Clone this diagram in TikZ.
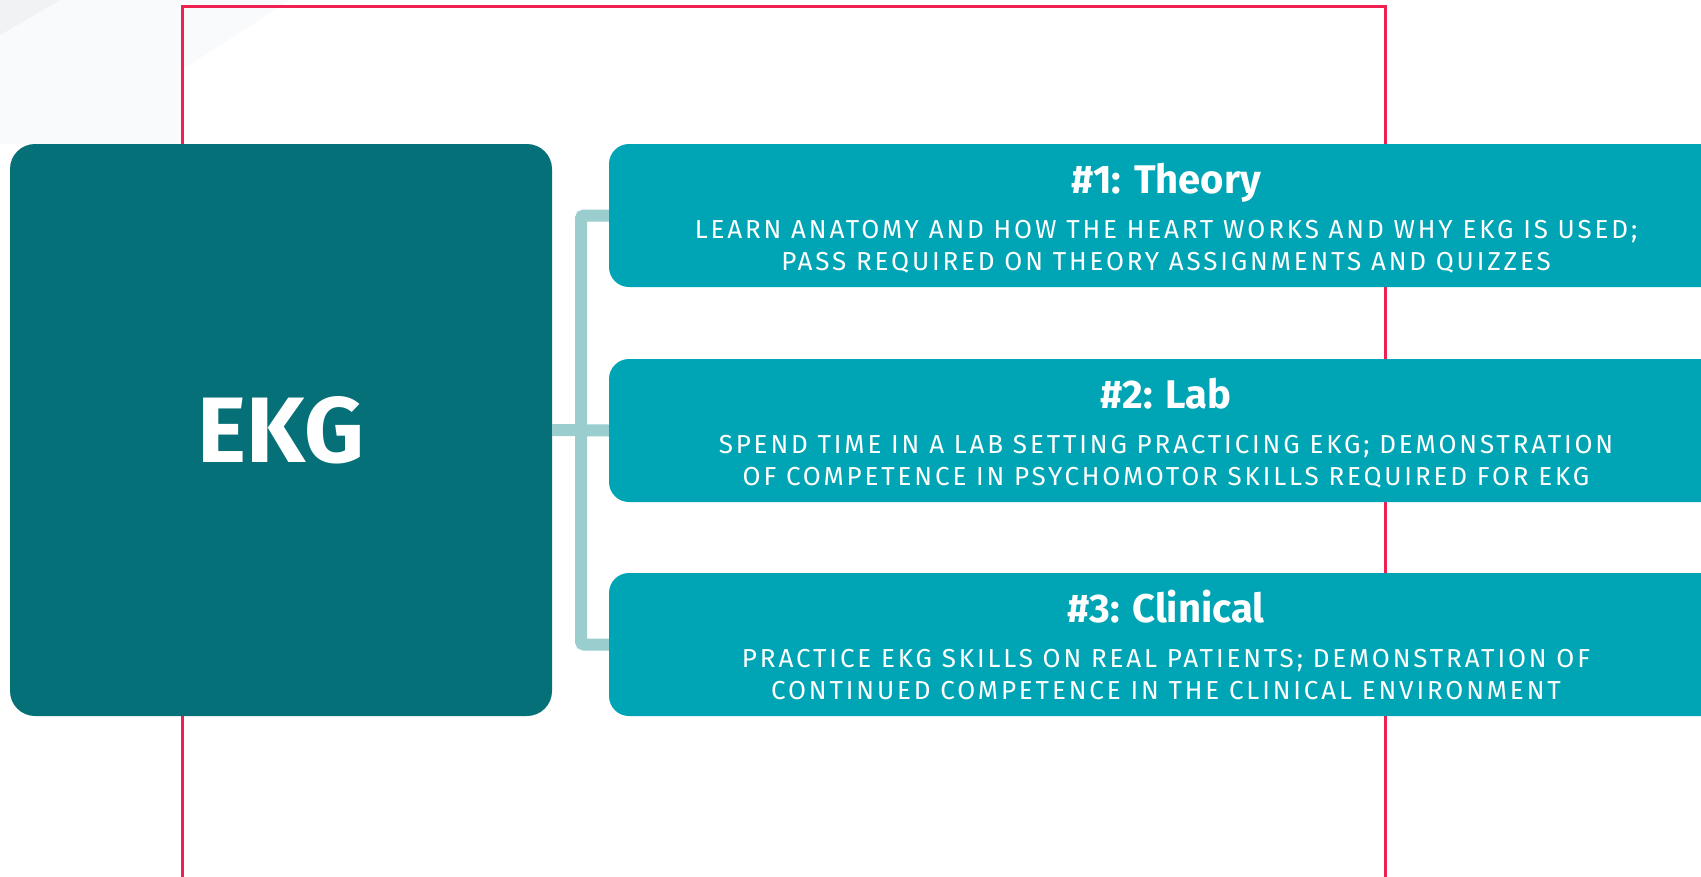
\documentclass[tikz,border=0pt]{standalone}
\usepackage{fontspec}
\setmainfont{Fira Sans}
\newfontfamily\bodyfont[LetterSpace=11]{Fira Sans}
\definecolor{ekgc}{HTML}{067078}
\definecolor{boxc}{HTML}{00A5B5}
\definecolor{connc}{HTML}{9ACDCE}
\definecolor{redc}{HTML}{EE2150}
\definecolor{bgA}{HTML}{F9FAFB}
\definecolor{bgB}{HTML}{F1F2F4}
\begin{document}
\begin{tikzpicture}[x=1pt,y=-1pt,
  ekgbox/.style={fill=ekgc, rounded corners=25, minimum width=542, minimum height=572, inner sep=0, text=white, font=\fontsize{93}{93}\selectfont\bfseries},
  stepbox/.style={fill=boxc, rounded corners=20, minimum width=1131, minimum height=143, inner sep=0},
  ttl/.style={anchor=base, text=white, inner sep=0, font=\fontsize{40}{44}\selectfont\bfseries},
  bdy/.style={anchor=base, text=white, inner sep=0, font=\bodyfont\fontsize{26}{30}\selectfont},
  conn/.style={draw=connc, line width=12, rounded corners=3},
  frame/.style={draw=redc, line width=3}]
\useasboundingbox (0,0) rectangle (1701,876);
% faint background
\fill[bgA] (0,0) -- (290,0) -- (182,70) -- (182,144) -- (0,144) -- cycle;
\fill[bgB] (0,0) -- (60,0) -- (0,35) -- cycle;
% red frame
\draw[frame] (182.5,6.5) rectangle (1385.5,900);
% connectors bus
\coordinate (bus) at (581,0);
% nodes
\node[ekgbox] (ekg) at (281,430) {EKG};
\node[stepbox] (s1) at (1174.5,215.5) {};
\node[stepbox] (s2) at (1174.5,430.5) {};
\node[stepbox] (s3) at (1174.5,644.5) {};
% connectors
\draw[conn] (s1.west) -| (bus |- s3.west) -- (s3.west);
\draw[conn] (ekg.east) -- (s2.west);
% texts
\node[ttl] (s1t) at (1166,193) {\#1: Theory};
\node[bdy] (s1a) at (1166,238) {LEARN ANATOMY AND HOW THE HEART WORKS AND WHY EKG IS USED;};
\node[bdy] (s1b) at (1166,270.5) {PASS REQUIRED ON THEORY ASSIGNMENTS AND QUIZZES};
\node[ttl] (s2t) at (1166,408) {\#2: Lab};
\node[bdy] (s2a) at (1166,453) {SPEND TIME IN A LAB SETTING PRACTICING EKG; DEMONSTRATION};
\node[bdy] (s2b) at (1166,485.5) {OF COMPETENCE IN PSYCHOMOTOR SKILLS REQUIRED FOR EKG};
\node[ttl] (s3t) at (1166,622) {\#3: Clinical};
\node[bdy] (s3a) at (1166,667) {PRACTICE EKG SKILLS ON REAL PATIENTS; DEMONSTRATION OF};
\node[bdy] (s3b) at (1166,699.5) {CONTINUED COMPETENCE IN THE CLINICAL ENVIRONMENT};
\end{tikzpicture}
\end{document}
